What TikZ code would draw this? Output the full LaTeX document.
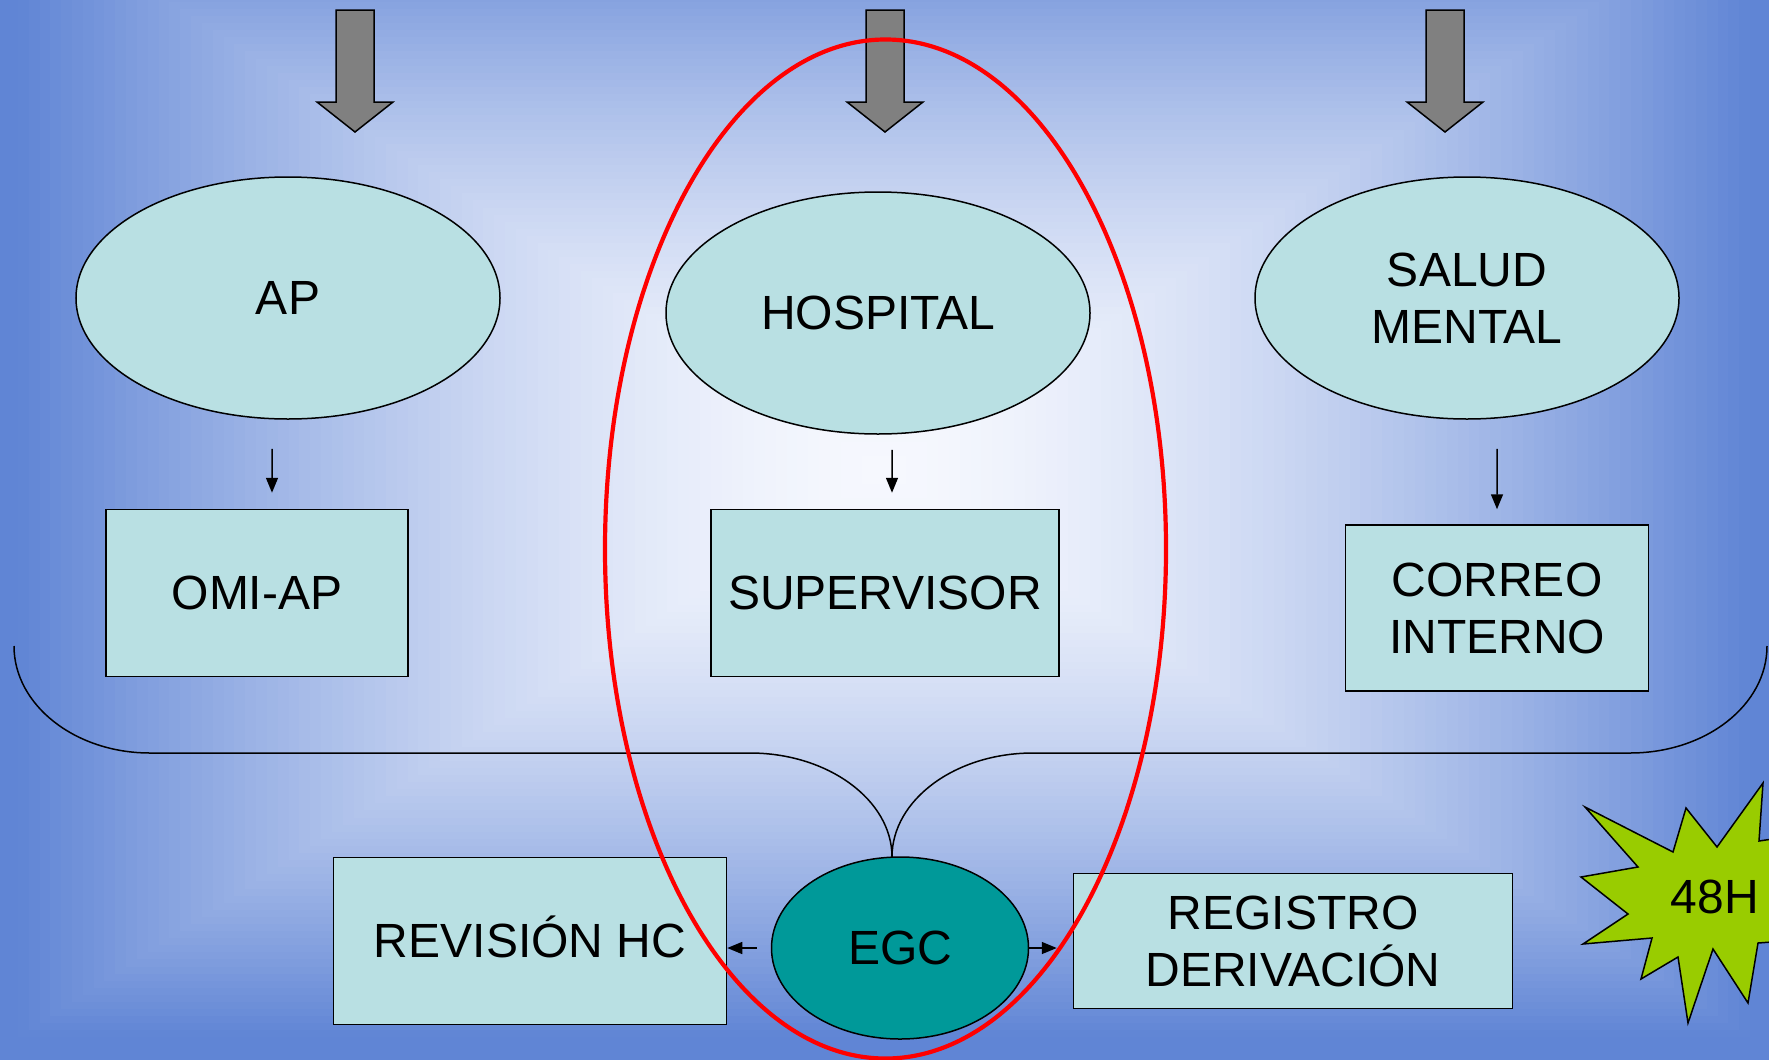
\documentclass[tikz,border=0pt]{standalone}
\usepackage{fontspec}
\setmainfont{Liberation Sans}
\usetikzlibrary{shapes.geometric,arrows.meta,calc}
\definecolor{bgblue}{RGB}{96,133,213}
\definecolor{bgwhite}{RGB}{246,248,254}
\definecolor{boxfill}{RGB}{185,224,227}
\definecolor{egcfill}{RGB}{0,153,153}
\definecolor{starfill}{RGB}{153,204,0}
\definecolor{arrowgray}{RGB}{128,128,128}
\begin{document}
\begin{tikzpicture}[x=1bp,y=-1bp,
  lbl/.style={font=\fontsize{48bp}{57bp}\selectfont, align=center, text=black},
  oval/.style={lbl, ellipse, draw=black, line width=1.5bp, fill=boxfill, inner sep=0pt},
  box/.style={lbl, rectangle, draw=black, line width=1.5bp, fill=boxfill, inner sep=0pt},
  smallarrow/.style={line width=1.5bp, -{Triangle[length=15bp,width=12bp]}},
  blockarrow/.style={fill=arrowgray, draw=black, line width=1.5bp, line join=miter},
  bracepath/.style={draw=black, line width=1.5bp},
  redring/.style={draw=red, line width=4.2bp},
  burst/.style={fill=starfill, draw=black, line width=1.5bp, line join=miter}
]
\useasboundingbox (0,0) rectangle (1769,1059);
\clip (0,0) rectangle (1769,1059);

% background: rectangular gradient from the centre
\fill[bgblue] (0,0) rectangle (1769,1059);
\foreach \i in {0,...,89} {
  \pgfmathsetmacro\t{1.12*(1-\i/90)}
  \pgfmathsetmacro\p{min(100,100*(\t)^1.6)}
  \fill[bgblue!\p!bgwhite] ({884-870*\t},{470-570*\t}) rectangle ({884+870*\t},{470+570*\t});
}

% big brace
\draw[bracepath] (14,646) .. controls (14,705) and (75,753) .. (150,753) -- (750,753)
  .. controls (828,753) and (892,800) .. (892,857)
  .. controls (892,800) and (955,753) .. (1033,753) -- (1630,753)
  .. controls (1706,753) and (1767,705) .. (1767,646);

% block arrows at the top
\foreach \cx in {355,885,1445} {
  \draw[blockarrow] (\cx-19,10) -- (\cx+19,10) -- (\cx+19,102) -- (\cx+38,102) -- (\cx,132)
    -- (\cx-38,102) -- (\cx-19,102) -- cycle;
}

% nodes
\node[oval, minimum width=424bp, minimum height=242bp] (ap) at (288,298) {AP};
\node[oval, minimum width=424bp, minimum height=242bp] (hosp) at (878,313) {HOSPITAL};
\node[oval, minimum width=424bp, minimum height=242bp] (salud) at (1467,298) {SALUD\\MENTAL};
\node[box, minimum width=302bp, minimum height=167bp] (omi) at (257,593) {OMI-AP};
\node[box, minimum width=348bp, minimum height=167bp] (sup) at (885,593) {SUPERVISOR};
\node[box, minimum width=303bp, minimum height=166bp] (correo) at (1497,608) {CORREO\\INTERNO};
\node[box, minimum width=393bp, minimum height=167bp] (rev) at (530,941) {REVISI\smash{Ó}N HC};
\node[box, minimum width=439bp, minimum height=135bp] (reg) at (1293,941) {REGISTRO\\DERIVACI\smash{Ó}N};
\node[oval, fill=egcfill, minimum width=257bp, minimum height=182bp] (egc) at (900,948) {EGC};

% small arrows
\draw[smallarrow] ([xshift=-16bp,yshift=-29bp]ap.south) -- ([xshift=15bp,yshift=16bp]omi.north);
\draw[smallarrow] ([xshift=14bp,yshift=-15bp]hosp.south) -- ([xshift=7bp,yshift=16bp]sup.north);
\draw[smallarrow] ([xshift=30bp,yshift=-29bp]salud.south) -- ([yshift=15bp]correo.north);
\draw[smallarrow] ([xshift=-14bp]egc.west) -- (rev.east |- egc.west);
\draw[smallarrow] (egc.east) -- ($(reg.west |- egc.east)+(-16,0)$);

% red ring
\draw[redring] (885.5,549) ellipse [x radius=280.5bp, y radius=509.5bp];

% 48H burst
\draw[burst] (1585,807) -- (1673,852) -- (1686,808) -- (1717,847) -- (1763,783) -- (1759,841)
  -- (1800,835) -- (1785,890) -- (1800,940) -- (1758,943) -- (1748,1003) -- (1713,949)
  -- (1688,1023) -- (1678,957) -- (1641,979) -- (1652,938) -- (1583,944) -- (1628,914)
  -- (1581,877) -- (1638,867) -- cycle;
\node[lbl] (h48) at (1715,897) {48H};
\end{tikzpicture}
\end{document}
